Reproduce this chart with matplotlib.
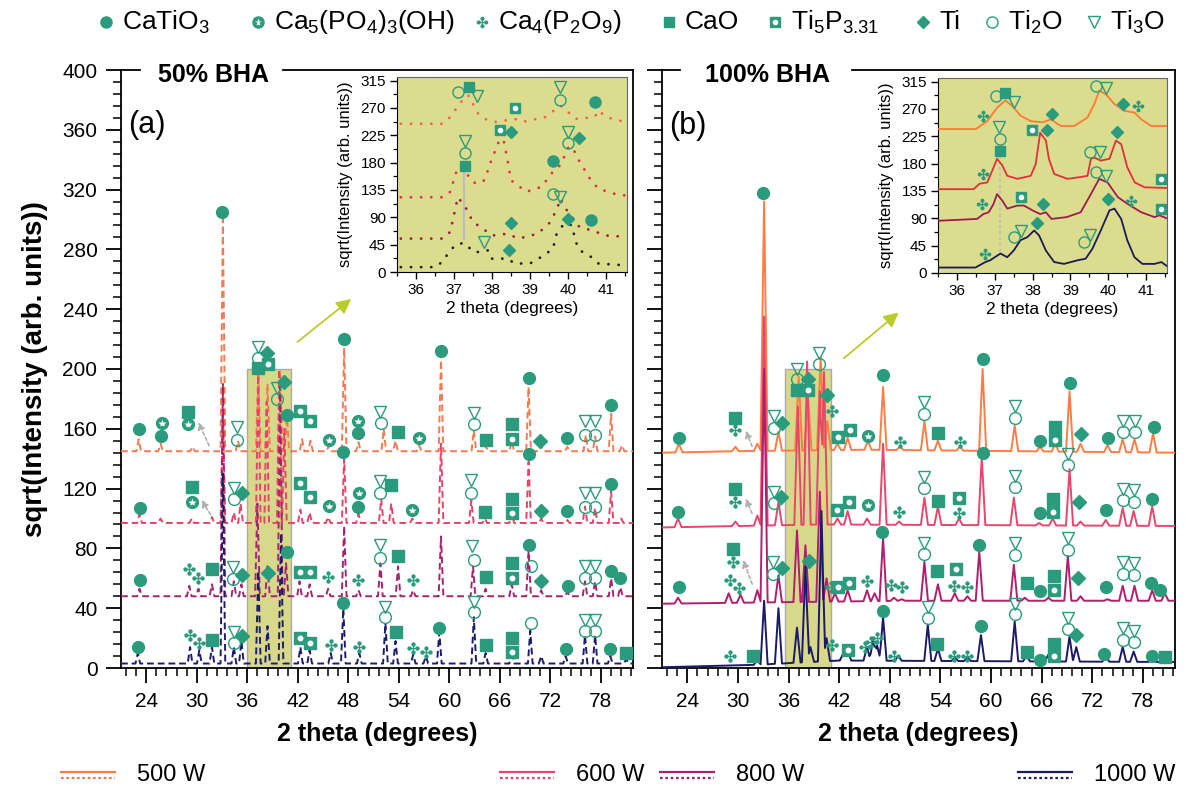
import numpy as np
import matplotlib
matplotlib.use("Agg")
import matplotlib.pyplot as plt
from matplotlib.path import Path
from matplotlib.ticker import MultipleLocator

plt.rcParams['font.family'] = ['Liberation Sans', 'DejaVu Sans']
plt.rcParams['mathtext.fontset'] = 'custom'
plt.rcParams['mathtext.rm'] = 'Liberation Sans'
plt.rcParams['mathtext.it'] = 'Liberation Sans:italic'

W, H = 1186, 787
teal = '#2a9b7c'

# ---------------- data ----------------
series = ['500 W', '600 W', '800 W', '1000 W']
col_a = ['#f47a52', '#e5456a', '#a5246f', '#1d1d6c']      # panel (a) dashed
col_b = ['#ff7c45', '#e8466b', '#b01f6e', '#1a1a66']      # panel (b) solid
col_ia = ['#f0654a', '#e03048', '#9e1e3c', '#222222']     # inset (a) dotted
col_ib = ['#ff7a35', '#e0303c', '#a01a50', '#1a1a5a']     # inset (b)

# panel (a) 50% BHA : baseline anchors and peaks (2theta, top)
a_base = [[(21, 145), (82, 145)],
          [(21, 97), (82, 97)],
          [(21, 48), (82, 48)],
          [(21, 3), (82, 3)]]
a_peaks = [
    [(23.1, 153), (25.7, 150), (29.5, 148), (33.1, 300), (34.9, 152), (37.3, 198), (38.4, 190),
     (39.9, 196), (40.7, 168), (42.5, 153), (43.5, 152), (45.7, 149), (47.5, 214), (49.2, 151),
     (52.2, 160), (53.6, 152), (56.4, 149), (59.0, 206), (62.9, 159), (64.3, 149), (67.4, 152),
     (69.4, 188), (70.9, 149), (74.0, 148), (76.2, 156), (77.3, 155), (79.2, 170), (80.5, 149)],
    [(23.2, 103), (25.7, 100), (29.4, 100), (31.8, 101), (33.1, 172), (34.4, 104), (35.2, 110),
     (37.3, 196), (38.3, 178), (39.8, 200), (40.4, 160), (42.3, 106), (43.4, 104), (45.6, 101),
     (47.5, 140), (49.2, 103), (51.9, 113), (53.1, 110), (55.6, 100), (59.0, 150), (62.6, 112),
     (64.2, 100), (67.4, 104), (69.4, 138), (70.9, 100), (74.0, 99), (76.1, 108), (77.3, 107),
     (79.2, 118), (80.4, 100)],
    [(23.2, 53), (29.1, 55), (30.2, 53), (31.8, 56), (33.1, 190), (34.4, 58), (35.3, 56),
     (37.2, 110), (38.4, 68), (39.9, 188), (40.6, 70), (42.2, 58), (43.4, 56), (45.6, 53),
     (47.5, 95), (49.2, 52), (51.8, 70), (53.9, 68), (55.7, 52), (59.0, 88), (62.8, 68),
     (64.3, 53), (67.4, 56), (69.4, 78), (70.9, 52), (74.0, 51), (76.1, 58), (77.3, 58),
     (79.2, 60), (80.3, 54)],
    [(23.0, 10), (29.2, 14), (30.3, 12), (31.8, 14), (33.1, 130), (34.4, 14), (35.3, 18),
     (37.3, 65), (38.4, 28), (40.0, 90), (42.3, 14), (43.4, 12), (45.9, 10), (47.4, 40),
     (49.3, 10), (52.4, 30), (53.6, 18), (55.7, 9), (57.2, 8), (58.8, 24), (62.9, 34),
     (64.3, 10), (67.4, 12), (69.6, 25), (70.9, 8), (73.8, 8), (76.1, 22), (77.3, 22),
     (79.1, 8), (81.0, 6)],
]

# panel (b) 100% BHA
b_base = [[(21, 144), (30, 145), (45, 146), (82, 144)],
          [(21, 94), (40, 96), (82, 95)],
          [(21, 43), (50, 45), (82, 45)],
          [(21, 0.5), (32, 2), (42, 5), (82, 4)]]
b_peaks = [
    [(23.0, 150), (29.7, 148), (32.3, 150), (33.1, 312), (34.8, 158), (37.2, 195), (38.3, 182),
     (39.8, 208), (40.6, 165), (41.8, 150), (43.0, 154), (45.4, 152), (47.2, 188), (49.2, 148),
     (52.1, 165), (53.7, 152), (56.3, 148), (59.0, 200), (62.8, 162), (65.8, 148), (67.6, 150),
     (69.3, 185), (70.6, 150), (73.8, 149), (75.6, 153), (77.0, 153), (79.2, 157)],
    [(22.9, 100), (29.7, 98), (32.3, 102), (33.1, 235), (34.8, 111), (37.1, 175), (38.2, 205),
     (39.7, 185), (40.2, 198), (41.8, 100), (43.0, 105), (45.3, 100), (47.2, 150), (49.1, 98),
     (52.1, 114), (53.7, 108), (56.2, 100), (58.9, 141), (62.7, 114), (65.7, 97), (67.3, 100),
     (69.3, 133), (70.6, 98), (73.6, 99), (75.6, 107), (76.9, 105), (79.1, 108)],
    [(22.9, 47), (28.9, 50), (30.3, 49), (32.3, 52), (33.1, 200), (34.8, 62), (37.0, 92),
     (38.0, 82), (39.7, 118), (40.5, 60), (41.5, 50), (43.0, 52), (45.3, 52), (46.2, 50),
     (47.2, 87), (48.5, 47), (49.4, 46), (52.1, 71), (53.7, 56), (55.7, 50), (57.2, 48),
     (58.6, 78), (62.7, 69), (64.0, 47), (66.8, 47), (69.1, 75), (70.6, 48), (73.8, 46),
     (75.6, 55), (77.0, 55), (79.1, 52), (80.6, 50)],
    [(32.3, 6), (33.1, 45), (34.8, 40), (37.0, 27), (38.0, 68), (38.6, 14), (39.9, 105),
     (40.5, 20), (42.5, 10), (43.0, 12), (45.3, 14), (46.0, 18), (46.5, 15), (47.2, 34),
     (49.0, 8), (52.5, 29), (53.7, 13), (55.7, 7), (57.2, 7), (58.8, 22), (62.8, 31),
     (64.2, 8), (66.8, 9), (67.4, 11), (69.3, 21), (70.1, 14), (73.6, 8), (75.6, 14),
     (76.9, 11), (79.1, 8), (80.6, 6)],
]

# phase labels on the main panels (2theta, y, phase code)
a_marks = [
    (33.0, 305, 'C'), (47.5, 220, 'C'), (59.0, 212, 'C'), (69.4, 194, 'C'), (79.2, 176, 'C'),
    (23.1, 160, 'C'), (25.85, 164, 'H'), (25.7, 155, 'C'), (29.0, 171.5, 'O'), (29.0, 163, 'H'),
    (34.8, 161, '3'), (34.8, 152.5, '2'), (37.3, 214.7, '3'), (37.3, 207.6, '2'), (38.3, 210.5, 'I'),
    (37.3, 201, 'O'), (38.4, 203.3, 'T'), (40.3, 191.5, 'I'), (39.5, 187, '3'), (39.5, 180, '2'),
    (40.7, 169, 'C'), (42.3, 172, 'T'), (43.4, 165.4, 'T'), (45.65, 152.5, 'H'), (49.2, 165.4, 'H'),
    (49.2, 157, 'C'), (51.8, 171.5, '3'), (51.9, 163.7, '2'), (53.9, 158, 'O'), (56.4, 153.6, 'H'),
    (62.9, 170.8, '3'), (62.9, 163.2, '2'), (64.3, 152.5, 'O'), (67.4, 163, 'O'), (67.4, 153, 'T'),
    (70.8, 152, 'I'), (74.0, 154, 'C'), (76.1, 165, '3'), (76.1, 156, '2'), (77.3, 165, '3'),
    (77.3, 156, '2'),
    (23.2, 106.8, 'C'), (29.4, 120.8, 'O'), (29.4, 111.3, 'H'), (34.4, 120.6, '3'), (34.4, 112.9, '2'),
    (35.4, 117.3, 'I'), (42.3, 123.5, 'T'), (43.4, 114.1, 'T'), (45.65, 108.3, 'H'), (47.4, 144.7, 'C'),
    (49.3, 116.8, 'H'), (49.2, 107.9, 'C'), (51.8, 125.3, '3'), (51.8, 117.3, '2'), (53.1, 122.1, 'O'),
    (55.6, 105.6, 'H'), (62.6, 125.7, '3'), (62.6, 117.3, '2'), (64.2, 104.5, 'O'), (67.4, 113, 'O'),
    (67.4, 104, 'T'), (69.4, 143, 'C'), (70.9, 105, 'I'), (74.0, 105, 'C'), (76.1, 117, '3'),
    (76.1, 108, '2'), (77.3, 117, '3'), (77.3, 108, '2'), (79.2, 123, 'C'),
    (23.2, 58.9, 'C'), (29.1, 66, 'P'), (30.2, 60, 'P'), (31.8, 66, 'O'), (34.3, 67.8, '3'),
    (34.3, 59.4, '2'), (35.4, 62.3, 'I'), (38.5, 63.8, 'I'), (40.7, 77.9, 'C'), (42.2, 64.5, 'T'),
    (43.4, 64.5, 'T'), (45.6, 61.1, 'P'), (49.2, 58.9, 'P'), (51.8, 82.4, '3'), (51.8, 73.5, '2'),
    (53.9, 74.6, 'O'), (55.7, 58.9, 'P'), (62.7, 81.7, '3'), (62.9, 72.4, '2'), (64.3, 61.1, 'O'),
    (67.4, 70, 'O'), (67.4, 60, 'T'), (69.4, 82, 'C'), (69.7, 68, '2'), (70.9, 58, 'I'),
    (74.1, 55, 'C'), (76.1, 68, '3'), (76.1, 60, '2'), (77.3, 68, '3'), (77.3, 60, '2'),
    (79.2, 65, 'C'), (80.3, 60, 'C'),
    (23.0, 14.3, 'C'), (29.2, 22, 'P'), (30.3, 16.5, 'P'), (31.8, 18.7, 'O'), (34.4, 24.3, '3'),
    (34.4, 17, '2'), (35.4, 21.4, 'I'), (42.3, 19.8, 'T'), (43.4, 17, 'T'), (45.9, 15.4, 'P'),
    (47.4, 43.2, 'C'), (49.3, 14.3, 'P'), (52.4, 41, '3'), (52.4, 34.3, '2'), (53.6, 24.3, 'O'),
    (55.7, 13.2, 'P'), (57.2, 11, 'P'), (58.8, 26.5, 'C'), (62.9, 44.3, '3'), (62.9, 37.6, '2'),
    (64.3, 15.4, 'O'), (67.4, 20, 'O'), (67.4, 11, 'T'), (69.7, 30, '2'), (73.8, 13, 'C'),
    (76.1, 32, '3'), (76.1, 25, '2'), (77.3, 32, '3'), (77.3, 25, '2'), (79.1, 13, 'C'),
    (81.0, 10, 'O'),
]
b_marks = [
    (33.0, 318, 'C'), (47.2, 196, 'C'), (59.0, 207, 'C'),
    (37.0, 200, '3'), (37.0, 193, '2'), (38.3, 193, 'I'), (37.0, 186, 'O'), (38.3, 186, 'T'),
    (39.6, 210.4, '3'), (39.65, 203.5, '2'),
    (23.0, 153.9, 'C'), (29.7, 167.3, 'O'), (29.7, 159.3, 'P'), (34.3, 168.5, '3'), (34.3, 160.4, '2'),
    (35.2, 164, 'I'), (41.1, 171.6, 'P'), (40.6, 182.4, 'I'), (41.8, 154.6, 'T'), (43.3, 159.3, 'T'),
    (45.4, 155.3, 'H'), (49.2, 151.2, 'P'), (52.1, 177.6, '3'), (52.1, 169.6, '2'), (53.7, 156.9, 'O'),
    (56.3, 151.2, 'P'), (62.8, 175.5, '3'), (62.8, 167.3, '2'), (65.8, 151.6, 'C'), (67.6, 161.5, 'O'),
    (67.6, 152.3, 'T'), (69.3, 190.8, 'C'), (70.6, 156.2, 'I'), (73.8, 153.9, 'C'), (75.6, 165, '3'),
    (75.6, 157.6, '2'), (77.0, 165, '3'), (77.0, 157.6, '2'), (79.3, 160.9, 'C'),
    (22.9, 104.5, 'C'), (29.7, 119.5, 'O'), (29.7, 110.8, 'P'), (34.3, 117.8, '3'), (34.3, 110.2, '2'),
    (35.1, 114.4, 'I'), (41.75, 106, 'T'), (43.2, 111.3, 'T'), (45.4, 109, 'H'), (49.1, 104.5, 'P'),
    (52.1, 127.7, '3'), (52.1, 120.1, '2'), (53.7, 112, 'O'), (56.2, 113.9, 'T'), (56.2, 104, 'P'),
    (59.0, 143.8, 'C'), (62.8, 128.1, '3'), (62.8, 120.8, '2'), (65.8, 104, 'C'), (67.3, 113.2, 'O'),
    (67.3, 104.5, 'T'), (69.1, 143.2, '3'), (69.1, 135.6, '2'), (70.4, 111.3, 'I'), (73.6, 106, 'C'),
    (75.6, 119.5, '3'), (75.6, 112.3, '2'), (76.9, 119, '3'), (76.9, 111.1, '2'), (79.1, 113.2, 'C'),
    (23.0, 54.4, 'C'), (29.0, 59, 'P'), (30.1, 53.3, 'P'), (29.4, 79.3, 'O'), (29.4, 71.2, 'P'),
    (34.2, 70.6, '3'), (34.2, 62.6, '2'), (35.2, 67.1, 'I'), (38.4, 71.7, 'I'), (41.8, 54.4, 'T'),
    (41.0, 54.4, 'P'), (43.2, 56.7, 'T'), (45.3, 57.9, 'P'), (47.1, 91.3, 'C'), (48.1, 55.6, 'P'),
    (49.4, 54.4, 'P'), (52.1, 83.3, '3'), (52.1, 76.4, '2'), (53.6, 64.8, 'O'), (55.9, 65.9, 'T'),
    (55.6, 55.1, 'P'), (57.2, 54.4, 'P'), (58.6, 82.6, 'C'), (62.8, 83.3, '3'), (62.8, 75.7, '2'),
    (64.2, 56.7, 'O'), (65.8, 51.6, 'C'), (67.4, 61.3, 'O'), (67.4, 52.5, 'T'), (69.1, 86.8, '3'),
    (69.1, 78.7, '2'), (70.3, 60.2, 'I'), (73.6, 54.4, 'C'), (75.6, 70.6, '3'), (75.6, 62.6, '2'),
    (76.9, 70.2, '3'), (76.9, 61.9, '2'), (78.9, 56.7, 'C'), (80.0, 52.5, 'C'),
    (29.1, 8.3, 'P'), (31.8, 8.3, 'O'), (41.2, 15.2, 'P'), (43.0, 11.8, 'T'), (45.0, 14, 'P'),
    (45.8, 17.6, 'P'), (46.5, 20, 'P'), (47.2, 38.3, 'C'), (48.5, 8.3, 'P'), (52.5, 40.6, '3'),
    (52.5, 33.7, '2'), (53.6, 16.1, 'O'), (55.6, 8.3, 'P'), (57.2, 7.8, 'P'), (58.8, 28.1, 'C'),
    (62.8, 42.9, '3'), (62.8, 36, '2'), (64.2, 10.7, 'O'), (65.8, 5.5, 'C'), (67.4, 16.1, 'O'),
    (67.4, 8.3, 'T'), (69.1, 33.7, '3'), (69.1, 26.4, '2'), (70.1, 21.8, 'I'), (73.4, 9.5, 'C'),
    (75.6, 26.8, '3'), (75.6, 18.8, '2'), (76.9, 25, '3'), (76.9, 17.3, '2'), (79.1, 8.3, 'C'),
    (80.6, 7.1, 'O'),
]

# zoomed insets (2theta, sqrt intensity)
ia_curves = [
    [(35.6, 244), (36.7, 244), (36.9, 255), (37.3, 290), (37.4, 290), (37.6, 263), (37.8, 252),
     (38.1, 247), (38.6, 252), (38.8, 247), (39.4, 255), (39.8, 274), (39.9, 269), (40.2, 252),
     (40.7, 255), (40.8, 266), (41.0, 255), (41.5, 247)],
    [(35.6, 123), (36.7, 123), (36.9, 132), (37.1, 173), (37.3, 167), (37.45, 150), (37.6, 145),
     (37.8, 151), (38.0, 187), (38.2, 218), (38.3, 218), (38.4, 187), (38.5, 151), (38.9, 132),
     (39.3, 140), (39.6, 165), (39.8, 176), (40.0, 204), (40.1, 207), (40.3, 182), (40.6, 151),
     (40.8, 137), (41.2, 129), (41.5, 126)],
    [(35.6, 55), (36.7, 55), (36.9, 66), (37.1, 123), (37.3, 107), (37.5, 82), (37.7, 74),
     (38.0, 60), (38.4, 63), (38.7, 55), (39.2, 63), (39.5, 80), (39.7, 102), (39.8, 121),
     (39.9, 107), (40.1, 91), (40.3, 74), (40.6, 69), (41.0, 60), (41.5, 58)],
    [(35.6, 8), (36.5, 8), (36.7, 17), (36.9, 36), (37.1, 47), (37.3, 47), (37.5, 33), (37.8, 33),
     (37.9, 36), (38.0, 22), (38.4, 22), (38.6, 14), (39.0, 14), (39.3, 25), (39.6, 38), (39.7, 63),
     (39.9, 80), (40.1, 77), (40.2, 50), (40.3, 36), (40.6, 25), (40.8, 14), (41.5, 11)],
]
ib_curves = [
    [(35.5, 237), (36.5, 237), (36.8, 250), (37.06, 272), (37.28, 284), (37.46, 275), (37.68, 259),
     (37.95, 250), (38.26, 248), (38.48, 253), (38.74, 242), (39.1, 242), (39.45, 256), (39.63, 278),
     (39.76, 300), (39.94, 294), (40.16, 278), (40.42, 267), (40.69, 264), (40.87, 253), (41.13, 242),
     (41.58, 242)],
    [(35.5, 138), (36.44, 138), (36.6, 147), (36.8, 149), (36.93, 168), (37.06, 188), (37.2, 177),
     (37.33, 160), (37.6, 155), (37.95, 160), (38.08, 179), (38.2, 231), (38.35, 218), (38.43, 188),
     (38.57, 163), (38.92, 155), (39.27, 158), (39.45, 160), (39.54, 188), (39.63, 190), (39.8, 185),
     (40.03, 188), (40.2, 218), (40.34, 212), (40.5, 174), (40.7, 149), (40.96, 141), (41.58, 140)],
    [(35.5, 86), (36.53, 89), (36.7, 97), (36.84, 100), (36.97, 114), (37.06, 130), (37.2, 119),
     (37.33, 106), (37.6, 111), (37.77, 111), (38.0, 103), (38.2, 97), (38.35, 100), (38.5, 89),
     (38.9, 92), (39.27, 100), (39.54, 130), (39.76, 155), (39.98, 149), (40.25, 125), (40.5, 114),
     (40.87, 100), (41.22, 92), (41.35, 95), (41.58, 89)],
    [(35.5, 9), (36.49, 9), (36.75, 18), (36.88, 21), (37.0, 26), (37.15, 32), (37.33, 26),
     (37.5, 37), (37.68, 54), (37.86, 59), (38.04, 70), (38.17, 62), (38.35, 37), (38.57, 18),
     (38.83, 15), (39.19, 21), (39.4, 23.5), (39.58, 40), (39.8, 70), (40.03, 103), (40.16, 106),
     (40.34, 89), (40.5, 54), (40.69, 26), (40.9, 15), (41.22, 15), (41.4, 18), (41.58, 10)],
]
ia_marks = [(37.1, 297, '2'), (37.4, 305, 'O'), (37.6, 290, '3'), (38.6, 270, 'T'), (38.2, 234, 'T'),
            (38.5, 230, 'I'), (39.8, 305, '3'), (39.8, 283, '2'), (40.7, 280, 'C'), (37.3, 215, '3'),
            (37.3, 196, '2'), (37.3, 175, 'O'), (39.6, 183, 'C'), (40.0, 231, '3'), (40.0, 212, '2'),
            (40.3, 221, 'I'), (39.6, 128, '2'), (39.8, 123, '3'), (40.0, 88, 'I'), (40.6, 85, 'C'),
            (38.5, 80, 'I'), (38.45, 36, 'I'), (37.8, 50, '3')]
ib_marks = [(37.02, 292, '2'), (37.28, 297, 'O'), (37.5, 281, '3'), (36.7, 259, 'P'), (38.52, 261, 'I'),
            (39.67, 308, '2'), (39.94, 305, '3'), (40.38, 279, 'I'), (40.78, 275, 'P'), (37.99, 235, 'T'),
            (38.39, 235, 'I'), (37.1, 240, '3'), (37.13, 220, '2'), (37.15, 201, 'O'), (39.52, 199, '2'),
            (39.79, 199, '3'), (40.23, 232, 'I'), (36.7, 163, 'P'), (41.4, 155, 'T'), (36.66, 114, 'P'),
            (37.68, 125, 'T'), (38.28, 113, 'I'), (39.67, 166, '2'), (39.94, 160, '3'), (39.98, 122, 'I'),
            (40.6, 119, 'P'), (41.38, 106, 'T'), (38.12, 83, 'I'), (37.5, 60, '2'), (37.7, 69, '3'),
            (39.36, 51, '2'), (39.52, 63, '3'), (36.73, 32, 'P')]

phases = ['C', 'H', 'P', 'O', 'T', 'I', '2', '3']
phase_names = ['CaTiO$_3$', 'Ca$_5$(PO$_4$)$_3$(OH)', 'Ca$_4$(P$_2$O$_9$)', 'CaO',
               'Ti$_5$P$_{3.31}$', 'Ti', 'Ti$_2$O', 'Ti$_3$O']


# ---------------- helpers ----------------
def clover():
    parts = [Path.circle((0.55 * dx, 0.55 * dy), 0.3) for dx, dy in [(1, 0), (-1, 0), (0, 1), (0, -1)]]
    w, L = 0.09, 0.27
    plus = [(-w, L), (-w, w), (-L, w), (-L, -w), (-w, -w), (-w, -L), (w, -L), (w, -w),
            (L, -w), (L, w), (w, w), (w, L), (-w, L)]
    parts.append(Path(plus, closed=True))
    return Path.make_compound_path(*parts)


CLOVER = clover()


def put(ax, x, y, code, ms, **kw):
    kw.setdefault('clip_on', False)
    z = 6
    if code == 'C':
        ax.plot(x, y, 'o', ms=ms, color=teal, mec=teal, zorder=z, **kw)
    elif code == 'H':
        ax.plot(x, y, 'o', ms=ms, color=teal, mec=teal, zorder=z, **kw)
        ax.plot(x, y, '*', ms=ms * 0.72, color='white', mec='none', zorder=z + 1, **kw)
    elif code == 'P':
        ax.plot(x, y, marker=CLOVER, ls='none', ms=ms * 1.05, color=teal, mec='none', zorder=z, **kw)
    elif code == 'O':
        ax.plot(x, y, 's', ms=ms * 0.95, color=teal, mec=teal, zorder=z, **kw)
    elif code == 'T':
        ax.plot(x, y, 's', ms=ms * 0.95, color=teal, mec=teal, zorder=z, **kw)
        ax.plot(x, y, 'o', ms=ms * 0.5, color='white', mec='none', zorder=z + 1, **kw)
    elif code == 'I':
        ax.plot(x, y, 'D', ms=ms * 0.8, color=teal, mec=teal, zorder=z, **kw)
    elif code == '2':
        ax.plot(x, y, 'o', ms=ms, mfc='none', mec=teal, mew=1.0, zorder=z, **kw)
    elif code == '3':
        ax.plot(x, y, 'v', ms=ms, mfc='none', mec=teal, mew=1.0, zorder=z, **kw)


def profile(base, peaks, w):
    bx = [p[0] for p in base]
    by = [p[1] for p in base]
    xs = set(bx)
    for px, _ in peaks:
        xs.update([px - w, px, px + w])
    xs = sorted(xs)
    ys = []
    for x in xs:
        y = np.interp(x, bx, by)
        for px, top in peaks:
            b = np.interp(px, bx, by)
            y = max(y, top - (top - b) * abs(x - px) / w)
        ys.append(y)
    return xs, ys


def px_box(x0, y0, x1, y1):
    return [x0 / W, 1 - y1 / H, (x1 - x0) / W, (y1 - y0) / H]


fig = plt.figure(figsize=(W / 100, H / 100), dpi=100)
fig.patch.set_facecolor('white')

ax_a = fig.add_axes(px_box(121, 70, 633, 668))
ax_b = fig.add_axes(px_box(662, 70, 1175, 668))

for ax, bases, peaks, cols, w, ls in [(ax_a, a_base, a_peaks, col_a, 0.28, (0, (3.5, 2))),
                                      (ax_b, b_base, b_peaks, col_b, 0.42, '-')]:
    ax.set_xlim(21, 81.8)
    ax.set_ylim(0, 400)
    for i in range(4):
        xs, ys = profile(bases[i], peaks[i], w)
        ax.plot(xs, ys, color=cols[i], lw=1.4, ls=ls, zorder=3)
    ax.xaxis.set_major_locator(MultipleLocator(6))
    ax.xaxis.set_minor_locator(MultipleLocator(1.2))
    ax.yaxis.set_major_locator(MultipleLocator(40))
    ax.yaxis.set_minor_locator(MultipleLocator(8))
    ax.tick_params(which='major', direction='out', length=11, width=1.3, labelsize=15, pad=6)
    ax.tick_params(which='minor', direction='out', length=5.5, width=1.1)
    for s in ax.spines.values():
        s.set_linewidth(1.3)
    ax.spines['top'].set_visible(False)
    ax.set_xlabel('2 theta (degrees)', fontsize=18, fontweight='bold', labelpad=8)

ax_a.set_xticks(np.arange(24, 81, 6))
ax_b.set_xticks(np.arange(24, 81, 6))
ax_b.set_yticks(np.arange(0, 401, 40))
ax_b.tick_params(axis='y', labelleft=False)
ax_a.set_ylabel('sqrt(Intensity (arb. units))', fontsize=20, fontweight='bold', labelpad=10)

# yellow zoom boxes
ax_a.axvspan(36.0, 41.2, ymin=0, ymax=200 / 400, facecolor='#d8d88a', edgecolor='#aaaaaa', lw=1, zorder=1)
ax_b.axvspan(35.6, 41.0, ymin=0, ymax=200 / 400, facecolor='#d8d88a', edgecolor='#aaaaaa', lw=1, zorder=1)

# broken top frame around the panel titles
ax_a.plot([0, 0.037], [1, 1], transform=ax_a.transAxes, color='k', lw=1.3, clip_on=False)
ax_a.plot([0.316, 1], [1, 1], transform=ax_a.transAxes, color='k', lw=1.3, clip_on=False)
ax_b.plot([0, 0.035], [1, 1], transform=ax_b.transAxes, color='k', lw=1.3, clip_on=False)
ax_b.plot([0.37, 1], [1, 1], transform=ax_b.transAxes, color='k', lw=1.3, clip_on=False)
ax_a.text(0.18, 0.992, '50% BHA', transform=ax_a.transAxes, ha='center', va='center',
          fontsize=18, fontweight='bold')
ax_b.text(0.205, 0.992, '100% BHA', transform=ax_b.transAxes, ha='center', va='center',
          fontsize=18, fontweight='bold')
ax_a.text(0.051, 0.908, '(a)', transform=ax_a.transAxes, ha='center', va='center', fontsize=22)
ax_b.text(0.05, 0.906, '(b)', transform=ax_b.transAxes, ha='center', va='center', fontsize=22)

for ax, marks in [(ax_a, a_marks), (ax_b, b_marks)]:
    for x, y, c in marks:
        put(ax, x, y, c, 8.5)

# arrows
arrow_kw = dict(arrowstyle='-|>', color='#bccb2c', lw=1.3, mutation_scale=22)
ax_a.annotate('', xy=(48.6, 248), xytext=(41.7, 217), arrowprops=arrow_kw, zorder=5)
ax_b.annotate('', xy=(49.3, 239), xytext=(42.3, 206), arrowprops=arrow_kw, zorder=5)
gray_kw = dict(arrowstyle='-|>', color='#b0b0b0', lw=1.2, ls=(0, (2, 1.5)), mutation_scale=10)
for (x0, y0, x1, y1) in [(31.6, 147, 30.06, 166), (31.8, 101, 30.4, 114)]:
    ax_a.annotate('', xy=(x1, y1), xytext=(x0, y0), arrowprops=gray_kw, zorder=4)
for (x0, y0, x1, y1) in [(31.8, 146.5, 30.8, 160.5), (31.8, 101.7, 30.8, 115), (31.8, 54.4, 30.5, 74)]:
    ax_b.annotate('', xy=(x1, y1), xytext=(x0, y0), arrowprops=gray_kw, zorder=4)

# insets
in_a = fig.add_axes(px_box(397, 77, 627, 272))
in_b = fig.add_axes(px_box(938, 78, 1167, 273))
for ax, curves, cols, marks, dotted in [(in_a, ia_curves, col_ia, ia_marks, True),
                                        (in_b, ib_curves, col_ib, ib_marks, False)]:
    ax.set_facecolor('#dcdc8e')
    ax.set_xlim(35.5, 41.55)
    ax.set_ylim(0, 321)
    for i in range(4):
        xs = [p[0] for p in curves[i]]
        ys = [p[1] for p in curves[i]]
        if dotted:
            ax.plot(xs, ys, color=cols[i], lw=2.0, ls=(0, (0.05, 3.6)), dash_capstyle='round', zorder=3)
        else:
            ax.plot(xs, ys, color=cols[i], lw=1.3, zorder=3)
    for x, y, c in marks:
        put(ax, x, y, c, 8)
    ax.xaxis.set_major_locator(MultipleLocator(1))
    ax.xaxis.set_minor_locator(MultipleLocator(0.5))
    ax.set_yticks(np.arange(0, 316, 45))
    ax.yaxis.set_minor_locator(MultipleLocator(22.5))
    ax.tick_params(which='major', direction='out', length=5, width=1, labelsize=11, pad=3)
    ax.tick_params(which='minor', direction='out', length=3, width=0.9)
    ax.spines['top'].set_color('#666666')
    ax.spines['right'].set_color('#666666')
    ax.spines['top'].set_linewidth(0.8)
    ax.spines['right'].set_linewidth(0.8)
    ax.set_xlabel('2 theta (degrees)', fontsize=12.5, labelpad=3)
    ax.set_ylabel('sqrt(Intensity (arb. units))', fontsize=12, labelpad=5)
in_a.plot([37.27, 37.27], [55, 170], color='#bdbdbd', lw=1.5, zorder=2)
in_b.plot([37.13, 37.13], [34, 193], color='#bdbdbd', lw=1.2, ls=(0, (2, 1.5)), zorder=2)

# legends drawn in figure pixel space
ov = fig.add_axes([0, 0, 1, 1])
ov.set_xlim(0, W)
ov.set_ylim(H, 0)
ov.axis('off')
ov.patch.set_alpha(0)
leg_mx = [106, 258, 482, 669, 775, 923, 992, 1094]
for mx, code, name in zip(leg_mx, phases, phase_names):
    put(ov, mx, 22, code, 8)
    ov.text(mx + 16, 22, name, fontsize=19, va='center', ha='left')

sw_x = [61, 500, 660, 1018]
for i, x0 in enumerate(sw_x):
    ov.plot([x0, x0 + 54], [772, 772], color=col_b[i], lw=1.6)
    ov.plot([x0, x0 + 54], [778, 778], color=col_a[i], lw=1.6, ls=(0, (1.2, 1.2)))
    ov.text(x0 + 76, 775, series[i], fontsize=17, va='center', ha='left')

fig.savefig('out.png', dpi=100)
